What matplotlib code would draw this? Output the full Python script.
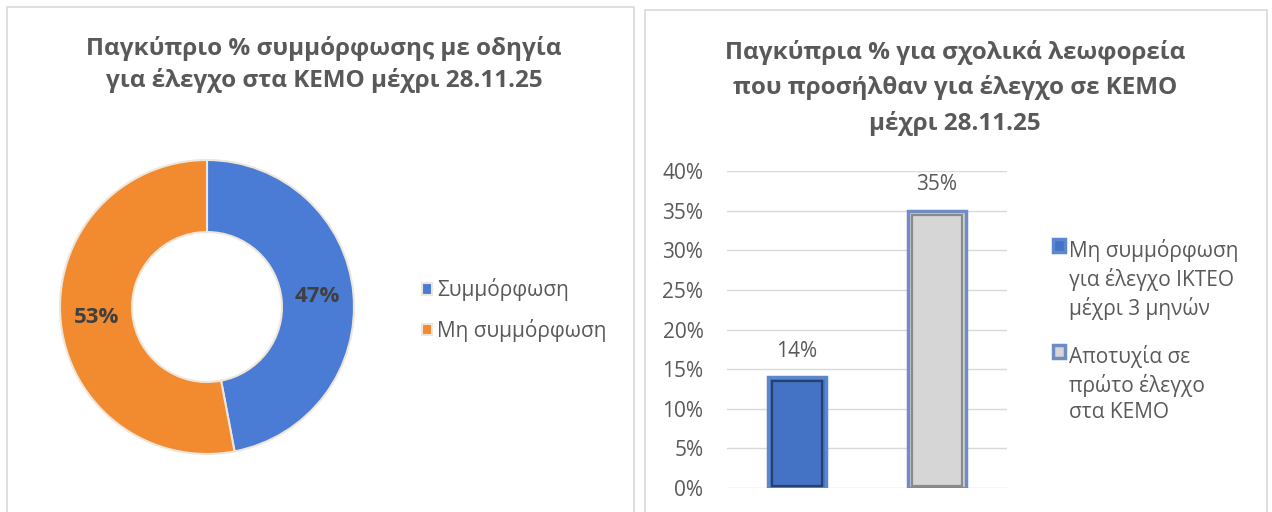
import matplotlib.pyplot as plt
from matplotlib.patches import Rectangle

plt.rcParams['font.family'] = ['Open Sans', 'DejaVu Sans']

W, H = 1272, 512

# Left chart: donut
donut_labels = ['Συμμόρφωση', 'Μη συμμόρφωση']
donut_values = [47, 53]
donut_colors = ['#4A7CD6', '#F28A30']
donut_title = 'Παγκύπριο % συμμόρφωσης με οδηγία\nγια έλεγχο στα ΚΕΜΟ μέχρι 28.11.25'

# Right chart: bars
bar_labels = ['Μη συμμόρφωση\nγια έλεγχο ΙΚΤΕΟ\nμέχρι 3 μηνών',
              'Αποτυχία σε\nπρώτο έλεγχο\nστα ΚΕΜΟ']
bar_values = [0.14, 0.35]
bar_colors = ['#4472C4', '#D6D6D6']
bar_edges = ['#5B86D0', '#6F8CC4']
bar_inner = ['#24426F', '#8A8A8A']
bar_title = 'Παγκύπρια % για σχολικά λεωφορεία\nπου προσήλθαν για έλεγχο σε ΚΕΜΟ\nμέχρι 28.11.25'
y_ticks = [0, 0.05, 0.10, 0.15, 0.20, 0.25, 0.30, 0.35, 0.40]

text_col = '#595959'


def box(x0, y0, x1, y1):
    # pixel box (top-left origin) -> figure fraction [l, b, w, h]
    return [x0 / W, 1 - y1 / H, (x1 - x0) / W, (y1 - y0) / H]


fig = plt.figure(figsize=(W / 100, H / 100), dpi=100)

# panel borders
for x0, y0, x1 in [(7, 7, 634), (645, 10, 1267)]:
    fig.patches.append(Rectangle((x0 / W, -0.01), (x1 - x0) / W, 1 - y0 / H + 0.01,
                                 transform=fig.transFigure, fill=False,
                                 edgecolor='#D9D9D9', linewidth=1.2))

# ---- donut ----
ax1 = fig.add_axes(box(60, 160, 354, 454))
wedges, _, autotexts = ax1.pie(donut_values, colors=donut_colors, startangle=90,
                               counterclock=False, radius=1.0,
                               autopct=lambda p: f'{round(p)}%', pctdistance=0.755,
                               wedgeprops=dict(width=0.49, edgecolor='#EFE6DA', linewidth=1.5),
                               textprops=dict(fontsize=16, fontweight='bold', color='#404040'))
ax1.set_xlim(-1, 1)
ax1.set_ylim(-1, 1)
ax1.set_aspect('equal')
fig.text(324 / W, 1 - 64.5 / H, donut_title, ha='center', va='center', fontsize=17.5,
         fontweight='bold', color=text_col, linespacing=1.4)
fig.legend(wedges, donut_labels, loc='center left', bbox_to_anchor=(403 / W, 1 - 310 / H),
           frameon=False, fontsize=15, labelcolor=text_col, handlelength=0.5,
           handleheight=0.5, handletextpad=0.25, labelspacing=0.85)

# ---- bars ----
ax2 = fig.add_axes(box(727, 171, 1007, 488))
x = list(range(len(bar_values)))
bars = ax2.bar(x, bar_values, width=0.42, color=bar_colors, edgecolor=bar_edges,
               linewidth=2.5, zorder=3)
# inner bevel outline
ax2.bar(x, [v - 0.008 for v in bar_values], bottom=0.003, width=0.36, fill=False,
        edgecolor=bar_inner, linewidth=1.6, zorder=4)
for b, v in zip(bars, bar_values):
    ax2.annotate(f'{v:.0%}', (b.get_x() + b.get_width() / 2, v), xytext=(0, 18.5),
                 textcoords='offset points', ha='center', va='center',
                 fontsize=15, color=text_col)
ax2.set_xlim(-0.5, 1.5)
ax2.set_ylim(0, 0.4)
ax2.set_yticks(y_ticks)
ax2.set_yticklabels([f'{t:.0%}' for t in y_ticks], fontsize=15, color=text_col)
ax2.set_xticks([])
ax2.tick_params(axis='y', length=0, pad=17)
ax2.grid(axis='y', color='#D9D9D9', linewidth=1, zorder=0)
for s in ax2.spines.values():
    s.set_visible(False)
fig.text(955 / W, 1 - 88 / H, bar_title, ha='center', va='center', fontsize=17.5,
         fontweight='bold', color=text_col, linespacing=1.53)
leg2 = fig.legend(bars, bar_labels, loc='upper left', bbox_to_anchor=(1034 / W, 1 - 220 / H),
                  frameon=False, fontsize=15, labelcolor=text_col, handlelength=0.6,
                  handleheight=0.6, handletextpad=0.2, labelspacing=1.2)
for t in leg2.get_texts():
    t.set_linespacing(1.33)
# put each legend square next to the first line of its label
for col in leg2._legend_handle_box.get_children():
    for item in col.get_children():
        item.align = 'top'

fig.savefig('out.png', dpi=100)
